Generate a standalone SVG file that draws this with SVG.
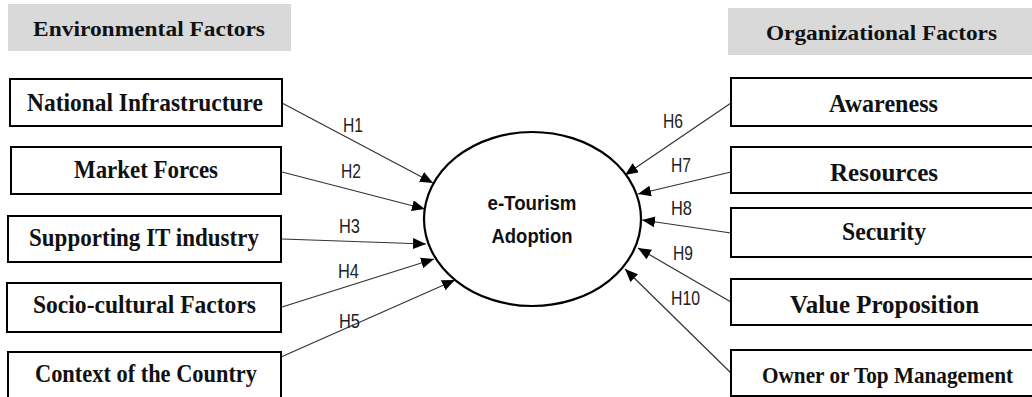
<svg xmlns="http://www.w3.org/2000/svg" width="1032" height="397" viewBox="0 0 1032 397">
<style>
.hdr{fill:#d9d9d9;stroke:none}
.ht{font-family:"Liberation Serif",serif;font-weight:bold;font-size:22px;fill:#111}
.box{fill:#fff;stroke:#000;stroke-width:2}
.nt{font-family:"Liberation Serif",serif;font-weight:bold;font-size:25px;fill:#111;text-anchor:middle}
.el{fill:#fff;stroke:#000;stroke-width:2.2}
.et{font-family:"Liberation Sans",sans-serif;font-weight:bold;font-size:21px;fill:#111;text-anchor:middle}
.ln{stroke:#333;stroke-width:1.2;fill:none;marker-end:url(#ah)}
.hl{font-family:"Liberation Sans",sans-serif;font-size:21px;fill:#222}
</style>
<defs>
<marker id="ah" markerUnits="userSpaceOnUse" markerWidth="13" markerHeight="11" refX="13" refY="5.5" orient="auto">
<path d="M0,0 L13,5.5 L0,11 z" fill="#000"/>
</marker>
</defs>
<rect width="1032" height="397" fill="#fff"/>
<g id="hdr-env">
<rect class="hdr" x="8" y="4" width="283" height="47"/>
<text class="ht" x="33" y="36" textLength="232" lengthAdjust="spacingAndGlyphs">Environmental Factors</text>
</g>
<g id="hdr-org">
<rect class="hdr" x="728" y="8" width="304" height="47"/>
<text class="ht" x="766" y="40" textLength="231" lengthAdjust="spacingAndGlyphs">Organizational Factors</text>
</g>
<g id="connectors">
<line class="ln" x1="282" y1="103" x2="433" y2="183"/>
<line class="ln" x1="282" y1="172" x2="425" y2="209"/>
<line class="ln" x1="282" y1="239" x2="426" y2="244"/>
<line class="ln" x1="282" y1="307" x2="434" y2="259"/>
<line class="ln" x1="281" y1="357" x2="455" y2="280"/>
<line class="ln" x1="731" y1="103" x2="625" y2="175"/>
<line class="ln" x1="731" y1="172" x2="638" y2="194"/>
<line class="ln" x1="731" y1="233" x2="642" y2="220"/>
<line class="ln" x1="731" y1="302" x2="638" y2="248"/>
<line class="ln" x1="731" y1="373" x2="625" y2="269"/>
<text class="hl" x="343" y="132" textLength="20" lengthAdjust="spacingAndGlyphs">H1</text>
<text class="hl" x="341" y="178" textLength="20" lengthAdjust="spacingAndGlyphs">H2</text>
<text class="hl" x="339" y="233" textLength="21" lengthAdjust="spacingAndGlyphs">H3</text>
<text class="hl" x="338" y="278" textLength="21" lengthAdjust="spacingAndGlyphs">H4</text>
<text class="hl" x="339" y="328" textLength="21" lengthAdjust="spacingAndGlyphs">H5</text>
<text class="hl" x="663" y="128" textLength="20" lengthAdjust="spacingAndGlyphs">H6</text>
<text class="hl" x="671" y="172" textLength="20" lengthAdjust="spacingAndGlyphs">H7</text>
<text class="hl" x="671" y="215" textLength="21" lengthAdjust="spacingAndGlyphs">H8</text>
<text class="hl" x="673" y="260" textLength="20" lengthAdjust="spacingAndGlyphs">H9</text>
<text class="hl" x="671" y="305" textLength="29" lengthAdjust="spacingAndGlyphs">H10</text>
</g>
<g id="adoption">
<ellipse class="el" cx="532.5" cy="219" rx="108.5" ry="87"/>
<text class="et" x="532" y="210" textLength="89" lengthAdjust="spacingAndGlyphs">e-Tourism</text>
<text class="et" x="532" y="243" textLength="81" lengthAdjust="spacingAndGlyphs">Adoption</text>
</g>
<g id="n-national">
<rect class="box" x="10" y="79" width="272" height="47"/>
<text class="nt" x="145" y="111" textLength="236" lengthAdjust="spacingAndGlyphs">National Infrastructure</text>
</g>
<g id="n-market">
<rect class="box" x="11" y="147" width="270" height="47"/>
<text class="nt" x="146" y="178" textLength="144" lengthAdjust="spacingAndGlyphs">Market Forces</text>
</g>
<g id="n-supporting">
<rect class="box" x="8" y="216" width="273" height="46"/>
<text class="nt" x="144" y="246" textLength="230" lengthAdjust="spacingAndGlyphs">Supporting IT industry</text>
</g>
<g id="n-socio">
<rect class="box" x="7" y="283" width="274" height="49"/>
<text class="nt" x="144.5" y="313" textLength="223" lengthAdjust="spacingAndGlyphs">Socio-cultural Factors</text>
</g>
<g id="n-context">
<path class="box" d="M8,398 V352 H281 V398"/>
<text class="nt" x="146" y="382" textLength="222" lengthAdjust="spacingAndGlyphs">Context of the Country</text>
</g>
<g id="n-awareness">
<path class="box" d="M1033,78 H731 V126 H1033"/>
<text class="nt" x="883.5" y="112" textLength="109" lengthAdjust="spacingAndGlyphs">Awareness</text>
</g>
<g id="n-resources">
<path class="box" d="M1033,147 H731 V193 H1033"/>
<text class="nt" x="884" y="181" textLength="108" lengthAdjust="spacingAndGlyphs">Resources</text>
</g>
<g id="n-security">
<path class="box" d="M1033,208 H731 V257 H1033"/>
<text class="nt" x="884" y="240" textLength="84" lengthAdjust="spacingAndGlyphs">Security</text>
</g>
<g id="n-value">
<path class="box" d="M1033,279 H731 V325 H1033"/>
<text class="nt" x="884.5" y="313" textLength="189" lengthAdjust="spacingAndGlyphs">Value Proposition</text>
</g>
<g id="n-owner">
<path class="box" d="M1033,350 H731 V396 H1033"/>
<text class="nt" x="887.5" y="383" style="font-size:23px" textLength="251" lengthAdjust="spacingAndGlyphs">Owner or Top Management</text>
</g>
</svg>
